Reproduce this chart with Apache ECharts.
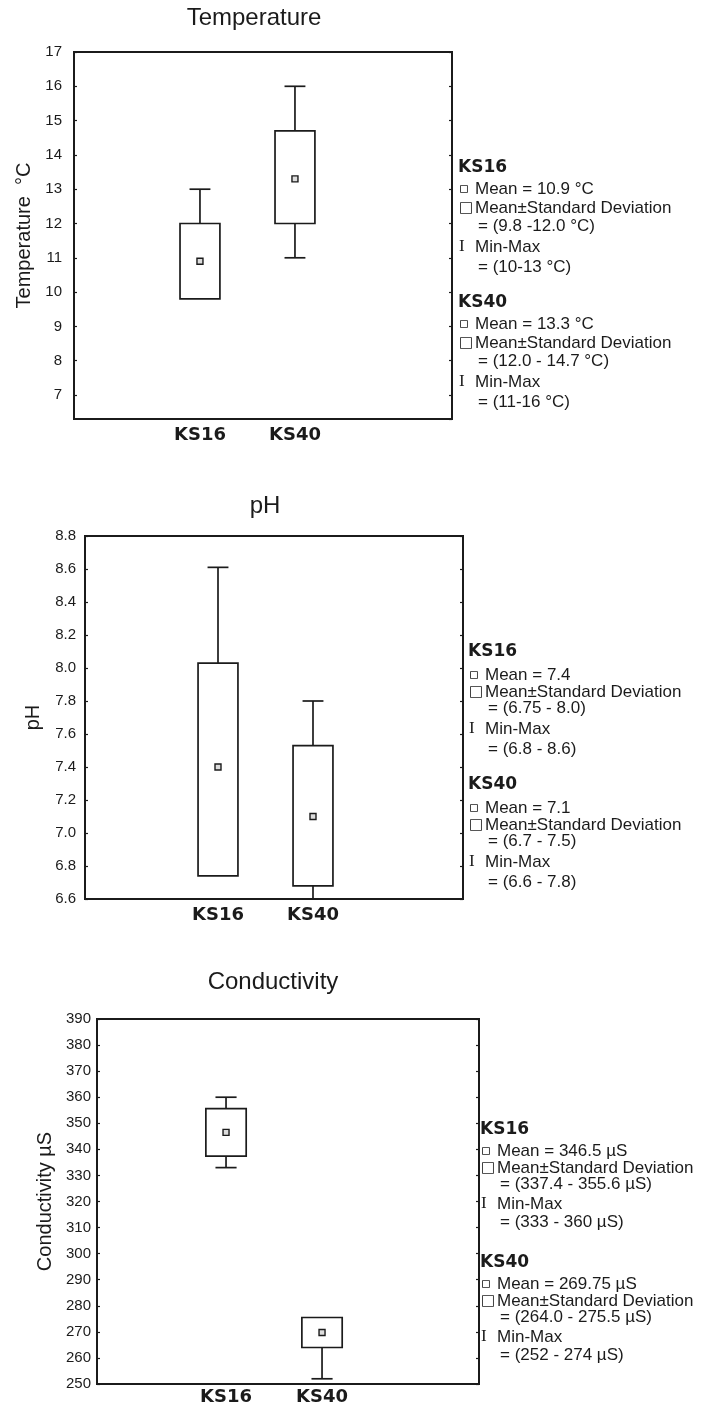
<!DOCTYPE html>
<html>
<head>
<meta charset="utf-8">
<script src="https://cdn.jsdelivr.net/npm/echarts@6/dist/echarts.min.js"></script>
<style>
html,body{margin:0;padding:0;background:#fff;}
#c{width:710px;height:1409px;}
</style>
</head>
<body>
<div id="c"></div>
<script>
// ---------- data ----------
const categories = ['KS16', 'KS40'];

// Temperature (°C)
const tempMean   = [10.9, 13.3];
const tempSdLow  = [9.8, 12.0];
const tempSdHigh = [12.0, 14.7];
const tempMin    = [10, 11];
const tempMax    = [13, 16];

// pH
const phMean   = [7.40, 7.10];
const phSdLow  = [6.74, 6.68];
const phSdHigh = [8.03, 7.53];
const phMin    = [6.8, 6.6];
const phMax    = [8.61, 7.80];

// Conductivity (µS)
const condMean   = [346.5, 269.75];
const condSdLow  = [337.4, 264.0];
const condSdHigh = [355.6, 275.5];
const condMin    = [333, 252];
const condMax    = [360, 274];

// legend texts
const tempLegend16 = ['KS16', 'Mean = 10.9 °C', 'Mean±Standard Deviation', '= (9.8 -12.0 °C)', 'Min-Max', '= (10-13 °C)'];
const tempLegend40 = ['KS40', 'Mean = 13.3 °C', 'Mean±Standard Deviation', '= (12.0 - 14.7 °C)', 'Min-Max', '= (11-16 °C)'];
const phLegend16 = ['KS16', 'Mean = 7.4', 'Mean±Standard Deviation', '= (6.75 - 8.0)', 'Min-Max', '= (6.8 - 8.6)'];
const phLegend40 = ['KS40', 'Mean = 7.1', 'Mean±Standard Deviation', '= (6.7 - 7.5)', 'Min-Max', '= (6.6 - 7.8)'];
const condLegend16 = ['KS16', 'Mean = 346.5 µS', 'Mean±Standard Deviation', '= (337.4 - 355.6 µS)', 'Min-Max', '= (333 - 360 µS)'];
const condLegend40 = ['KS40', 'Mean = 269.75 µS', 'Mean±Standard Deviation', '= (264.0 - 275.5 µS)', 'Min-Max', '= (252 - 274 µS)'];

// ---------- helpers ----------
const INK = '#1b1b1b';
const FONT = '"Liberation Sans", Arial, Helvetica, sans-serif';
const BOLDFONT = '"DejaVu Sans", "Liberation Sans", Arial, sans-serif';

function buildRows(mn, lo, mean, hi, mx) {
  return categories.map((c, i) => [i + 1, mn[i], lo[i], mean[i], hi[i], mx[i]]);
}

function renderBox(params, api) {
  const x = api.value(0);
  const mn = api.value(1), lo = api.value(2), mean = api.value(3), hi = api.value(4), mx = api.value(5);
  const bw = api.size([0.42, 0])[0];
  const cw = api.size([0.22, 0])[0];
  const pLo = api.coord([x, lo]);
  const pHi = api.coord([x, hi]);
  const pMean = api.coord([x, mean]);
  const cx = pLo[0];
  const lineStyle = { stroke: INK, lineWidth: 1.7, fill: null };
  const children = [];
  if (mx > hi) {
    const pMx = api.coord([x, mx]);
    children.push({ type: 'line', shape: { x1: cx, y1: pHi[1], x2: cx, y2: pMx[1] }, style: lineStyle });
    children.push({ type: 'line', shape: { x1: cx - cw / 2, y1: pMx[1], x2: cx + cw / 2, y2: pMx[1] }, style: lineStyle });
  }
  if (mn < lo) {
    const pMn = api.coord([x, mn]);
    children.push({ type: 'line', shape: { x1: cx, y1: pLo[1], x2: cx, y2: pMn[1] }, style: lineStyle });
    children.push({ type: 'line', shape: { x1: cx - cw / 2, y1: pMn[1], x2: cx + cw / 2, y2: pMn[1] }, style: lineStyle });
  }
  children.push({ type: 'rect', shape: { x: cx - bw / 2, y: pHi[1], width: bw, height: pLo[1] - pHi[1] },
    style: { stroke: INK, lineWidth: 1.7, fill: '#fff' } });
  children.push({ type: 'rect', shape: { x: cx - 3, y: pMean[1] - 3, width: 6, height: 6 },
    style: { stroke: INK, lineWidth: 1.4, fill: '#ddd' } });
  return { type: 'group', children };
}

function catLabel(v) {
  const idx = Math.round(v);
  if (Math.abs(v - idx) < 1e-6 && idx >= 1 && idx <= categories.length) return categories[idx - 1];
  return '';
}

function legendBlock(hx, y0, offs, lines) {
  const els = [];
  const syms = { 1: '▫', 2: '□', 4: 'I' };
  lines.forEach((t, i) => {
    const y = y0 + offs[i];
    if (i === 0) {
      els.push({ type: 'text', x: hx, y, style: { text: t, fill: INK, fontFamily: BOLDFONT, fontSize: 17, fontWeight: 'bold', align: 'left', verticalAlign: 'middle' } });
      return;
    }
    if (syms[i]) {
      els.push({ type: 'text', x: hx + 1, y, style: { text: syms[i], fill: INK,
        fontFamily: i === 4 ? '"Liberation Serif", "DejaVu Serif", serif' : '"DejaVu Sans", sans-serif',
        fontSize: i === 4 ? 17 : (i === 1 ? 15 : 15), align: 'left', verticalAlign: 'middle' } });
    }
    const tx = (i === 3 || i === 5) ? hx + 20 : hx + 17;
    els.push({ type: 'text', x: tx, y, style: { text: t, fill: INK, fontFamily: FONT, fontSize: 17, align: 'left', verticalAlign: 'middle' } });
  });
  return els;
}

// ---------- chart ----------
const chart = echarts.init(document.getElementById('c'), null, { renderer: 'canvas' });

const grids = [
  { left: 74, top: 52, width: 378, height: 367 },
  { left: 85, top: 536, width: 378, height: 363 },
  { left: 97, top: 1019, width: 382, height: 365 }
];
const xRanges = [[-0.326, 3.653], [-0.4, 3.579], [-0.344, 3.635]];
const labelMargins = [7, 7, 4];

const yDefs = [
  { min: 6.3, max: 17, splitNumber: 10, fmt: v => (Math.abs(v - Math.round(v)) < 1e-6 ? String(Math.round(v)) : ''), name: 'Temperature  °C', gap: 40, margin: 12 },
  { min: 6.6, max: 8.8, interval: 0.2, fmt: v => v.toFixed(1), name: 'pH', gap: 42, margin: 9 },
  { min: 250, max: 390, interval: 10, fmt: v => String(Math.round(v)), name: 'Conductivity µS', gap: 39, margin: 6 }
];

const xAxis = [], yAxis = [];
grids.forEach((g, i) => {
  xAxis.push({
    gridIndex: i, type: 'value', min: xRanges[i][0], max: xRanges[i][1],
    splitLine: { show: false }, axisTick: { show: false }, axisLine: { show: false, onZero: false },
    axisLabel: { formatter: catLabel, margin: labelMargins[i], fontFamily: BOLDFONT, fontSize: 18, fontWeight: 'bold', color: INK }
  });
  const d = yDefs[i];
  const base = {
    gridIndex: i, type: 'value', min: d.min, max: d.max,
    splitLine: { show: false },
    axisLine: { show: true, onZero: false, lineStyle: { color: INK, width: 2 } },
    axisTick: { show: true, inside: true, length: 3, lineStyle: { color: INK, width: 1.2 } }
  };
  if (d.interval) base.interval = d.interval; else base.splitNumber = d.splitNumber;
  yAxis.push(Object.assign({}, base, {
    position: 'left',
    name: d.name, nameLocation: 'middle', nameRotate: 90, nameGap: d.gap,
    nameTextStyle: { fontFamily: FONT, fontSize: 20, color: INK },
    axisLabel: { formatter: d.fmt, margin: d.margin, fontFamily: FONT, fontSize: 15, color: INK, showMinLabel: i !== 0 }
  }));
  yAxis.push(Object.assign({}, base, { position: 'right', axisLabel: { show: false } }));
});

const seriesData = [
  buildRows(tempMin, tempSdLow, tempMean, tempSdHigh, tempMax),
  buildRows(phMin, phSdLow, phMean, phSdHigh, phMax),
  buildRows(condMin, condSdLow, condMean, condSdHigh, condMax)
];

const series = seriesData.map((rows, i) => ({
  type: 'custom', xAxisIndex: i, yAxisIndex: i * 2,
  renderItem: renderBox, data: rows,
  encode: { x: 0, y: [1, 2, 3, 4, 5] },
  silent: true
}));

const titleStyle = { fontFamily: FONT, fontSize: 24, fontWeight: 'normal', color: INK };
const option = {
  backgroundColor: '#fff',
  animation: false,
  title: [
    { text: 'Temperature', left: 254, top: 6, textAlign: 'center', padding: 0, textStyle: titleStyle },
    { text: 'pH', left: 265, top: 494, textAlign: 'center', padding: 0, textStyle: titleStyle },
    { text: 'Conductivity', left: 273, top: 970, textAlign: 'center', padding: 0, textStyle: titleStyle }
  ],
  grid: grids.map(g => Object.assign({ show: true, borderColor: INK, borderWidth: 2, backgroundColor: 'transparent', containLabel: false }, g)),
  xAxis, yAxis, series,
  graphic: [].concat(
    legendBlock(458, 168, [0, 21, 40, 58, 79, 99], tempLegend16),
    legendBlock(458, 303, [0, 21, 40, 58, 79, 99], tempLegend40),
    legendBlock(468, 652, [0, 23, 40, 56, 77, 97], phLegend16),
    legendBlock(468, 785, [0, 23, 40, 56, 77, 97], phLegend40),
    legendBlock(480, 1130, [0, 21, 38, 54, 74, 92], condLegend16),
    legendBlock(480, 1263, [0, 21, 38, 54, 74, 92], condLegend40)
  )
};
chart.setOption(option);
</script>
</body>
</html>
